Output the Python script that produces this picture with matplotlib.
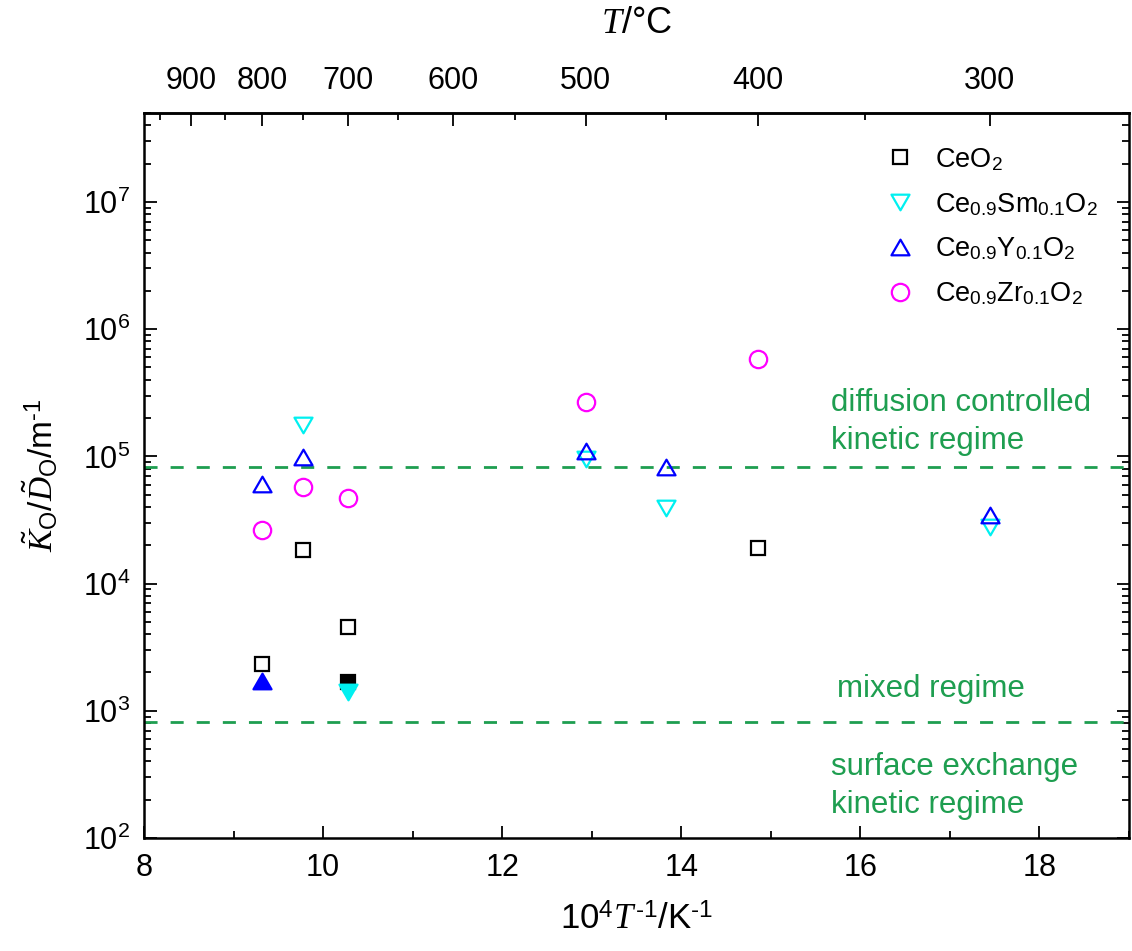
import numpy as np
import matplotlib
matplotlib.use("Agg")
import matplotlib.pyplot as plt
from matplotlib.ticker import MultipleLocator, LogLocator, NullFormatter
from matplotlib.path import Path

plt.rcParams["font.family"] = ["Liberation Sans", "DejaVu Sans"]
plt.rcParams["mathtext.fontset"] = "custom"
plt.rcParams["mathtext.rm"] = "Liberation Sans"
plt.rcParams["mathtext.sf"] = "Liberation Sans"
plt.rcParams["mathtext.it"] = "Liberation Serif:italic"
plt.rcParams["mathtext.bf"] = "Liberation Sans:bold"

# ---- data: 10^4/T (K^-1) and K_O/D_O (m^-1) ----
ceo2_x = [9.32, 9.78, 10.28, 14.86]
ceo2_y = [2.33e3, 1.83e4, 4.56e3, 1.89e4]

sm_x = [9.78, 12.94, 13.83, 17.45]
sm_y = [1.75e5, 9.6e4, 3.95e4, 2.77e4]

y_x = [9.32, 9.78, 12.94, 13.83, 17.45]
y_y = [6.1e4, 9.8e4, 1.10e5, 8.3e4, 3.43e4]

zr_x = [9.32, 9.78, 10.28, 12.94, 14.86]
zr_y = [2.66e4, 5.7e4, 4.67e4, 2.68e5, 5.8e5]

# second set of measurements (filled symbols)
ceo2_fill_x = [10.28]
ceo2_fill_y = [1.68e3]
sm_fill_x = [10.28]
sm_fill_y = [1.40e3]
y_fill_x = [9.32]
y_fill_y = [1.73e3]

# regime boundaries
upper_boundary = 8.2e4
lower_boundary = 8.2e2

labels = [r"CeO$_2$",
          r"Ce$_{0.9}$Sm$_{0.1}$O$_2$",
          r"Ce$_{0.9}$Y$_{0.1}$O$_2$",
          r"Ce$_{0.9}$Zr$_{0.1}$O$_2$"]

top_major_c = [900, 800, 700, 600, 500, 400, 300]
top_minor_c = [950, 850, 750, 650, 550, 450, 350]

HY = "\u2010"  # short hyphen used in the unit exponents

# equilateral triangles, centred on their bounding box
tri_up = Path([(0, 0.866), (-1, -0.866), (1, -0.866), (0, 0.866)],
              [Path.MOVETO, Path.LINETO, Path.LINETO, Path.CLOSEPOLY])
tri_dn = Path([(0, -0.866), (-1, 0.866), (1, 0.866), (0, -0.866)],
              [Path.MOVETO, Path.LINETO, Path.LINETO, Path.CLOSEPOLY])

CYAN = "#00F0F0"
BLUE = "#0000FF"
MAGENTA = "#FF00FF"
GREEN = "#1E9E50"

fig = plt.figure(figsize=(11.32, 9.51), dpi=100)
ax = fig.add_axes([0.1272, 0.1188, 0.8701, 0.7624])

mew = 1.6
h_sq, = ax.plot(ceo2_x, ceo2_y, ls="none", marker="s", ms=9.5, mfc="none",
                mec="black", mew=mew, zorder=3)
ax.plot(ceo2_fill_x, ceo2_fill_y, ls="none", marker="s", ms=9.5, mfc="black",
        mec="black", mew=mew, zorder=3)
h_sm, = ax.plot(sm_x, sm_y, ls="none", marker=tri_dn, ms=13, mfc="none",
                mec=CYAN, mew=mew, zorder=4)
ax.plot(sm_fill_x, sm_fill_y, ls="none", marker=tri_dn, ms=13, mfc=CYAN,
        mec=CYAN, mew=mew, zorder=4)
h_y, = ax.plot(y_x, y_y, ls="none", marker=tri_up, ms=13, mfc="none",
               mec=BLUE, mew=mew, zorder=5)
ax.plot(y_fill_x, y_fill_y, ls="none", marker=tri_up, ms=13, mfc=BLUE,
        mec=BLUE, mew=mew, zorder=5)
h_zr, = ax.plot(zr_x, zr_y, ls="none", marker="o", ms=12.5, mfc="none",
                mec=MAGENTA, mew=mew, zorder=6)

for yb in (upper_boundary, lower_boundary):
    ax.axhline(yb, color=GREEN, lw=2.0, ls=(0, (4.7, 4.7)), zorder=2)

ax.set_yscale("log")
ax.set_xlim(8, 19)
ax.set_ylim(1e2, 5e7)

ax.xaxis.set_major_locator(MultipleLocator(2))
ax.xaxis.set_minor_locator(MultipleLocator(1))
ax.yaxis.set_major_locator(LogLocator(base=10, numticks=20))
ax.yaxis.set_minor_locator(LogLocator(base=10, subs=np.arange(2, 10), numticks=20))
ax.yaxis.set_minor_formatter(NullFormatter())

ax.tick_params(which="both", direction="in", top=False, right=True,
               width=1.3, labelsize=22)
ax.tick_params(which="major", length=9)
ax.tick_params(which="minor", length=5)
ax.tick_params(axis="x", which="both", pad=11)
ax.tick_params(axis="y", which="both", pad=10)

for sp in ax.spines.values():
    sp.set_linewidth(1.8)


def inv_to_c(x):
    x = np.asarray(x, dtype=float)
    with np.errstate(divide="ignore", invalid="ignore"):
        return 1e4 / x - 273.15


def c_to_inv(t):
    t = np.asarray(t, dtype=float)
    with np.errstate(divide="ignore", invalid="ignore"):
        return 1e4 / (t + 273.15)


sec = ax.secondary_xaxis("top", functions=(inv_to_c, c_to_inv))
sec.set_xticks(top_major_c)
sec.set_xticks(top_minor_c, minor=True)
sec.set_xticklabels([str(t) for t in top_major_c])
sec.tick_params(which="both", direction="in", width=1.3, labelsize=22, pad=12)
sec.tick_params(which="major", length=9)
sec.tick_params(which="minor", length=5)
sec.spines["top"].set_linewidth(1.8)
sec.set_xlabel(r"$T$/°C", fontsize=26, labelpad=24)

ax.set_xlabel(r"10$^{4}$$T^{%s1}$/K$^{%s1}$" % (HY, HY), fontsize=25)
ax.xaxis.set_label_coords(0.5, -0.09)
ax.set_ylabel(r"$\tilde{K}_{\mathrm{O}}/\tilde{D}_{\mathrm{O}}$/m$^{%s1}$" % HY,
              fontsize=24)
ax.yaxis.set_label_coords(-0.085, 0.5)

tkw = dict(transform=ax.transAxes, color=GREEN, fontsize=22.5, va="baseline", ha="left")
ax.text(0.698, 0.5894, "diffusion controlled", **tkw)
ax.text(0.698, 0.5366, "kinetic regime", **tkw)
ax.text(0.704, 0.1949, "mixed regime", **tkw)
ax.text(0.698, 0.0869, "surface exchange", **tkw)
ax.text(0.698, 0.0341, "kinetic regime", **tkw)

ax.legend([h_sq, h_sm, h_y, h_zr], labels, loc="upper left",
          bbox_to_anchor=(0.754, 0.9545), frameon=False, borderpad=0,
          borderaxespad=0, handlelength=1.0, handletextpad=0.8,
          labelspacing=0.66, fontsize=19.5, numpoints=1)

fig.savefig("out.png", dpi=100)
